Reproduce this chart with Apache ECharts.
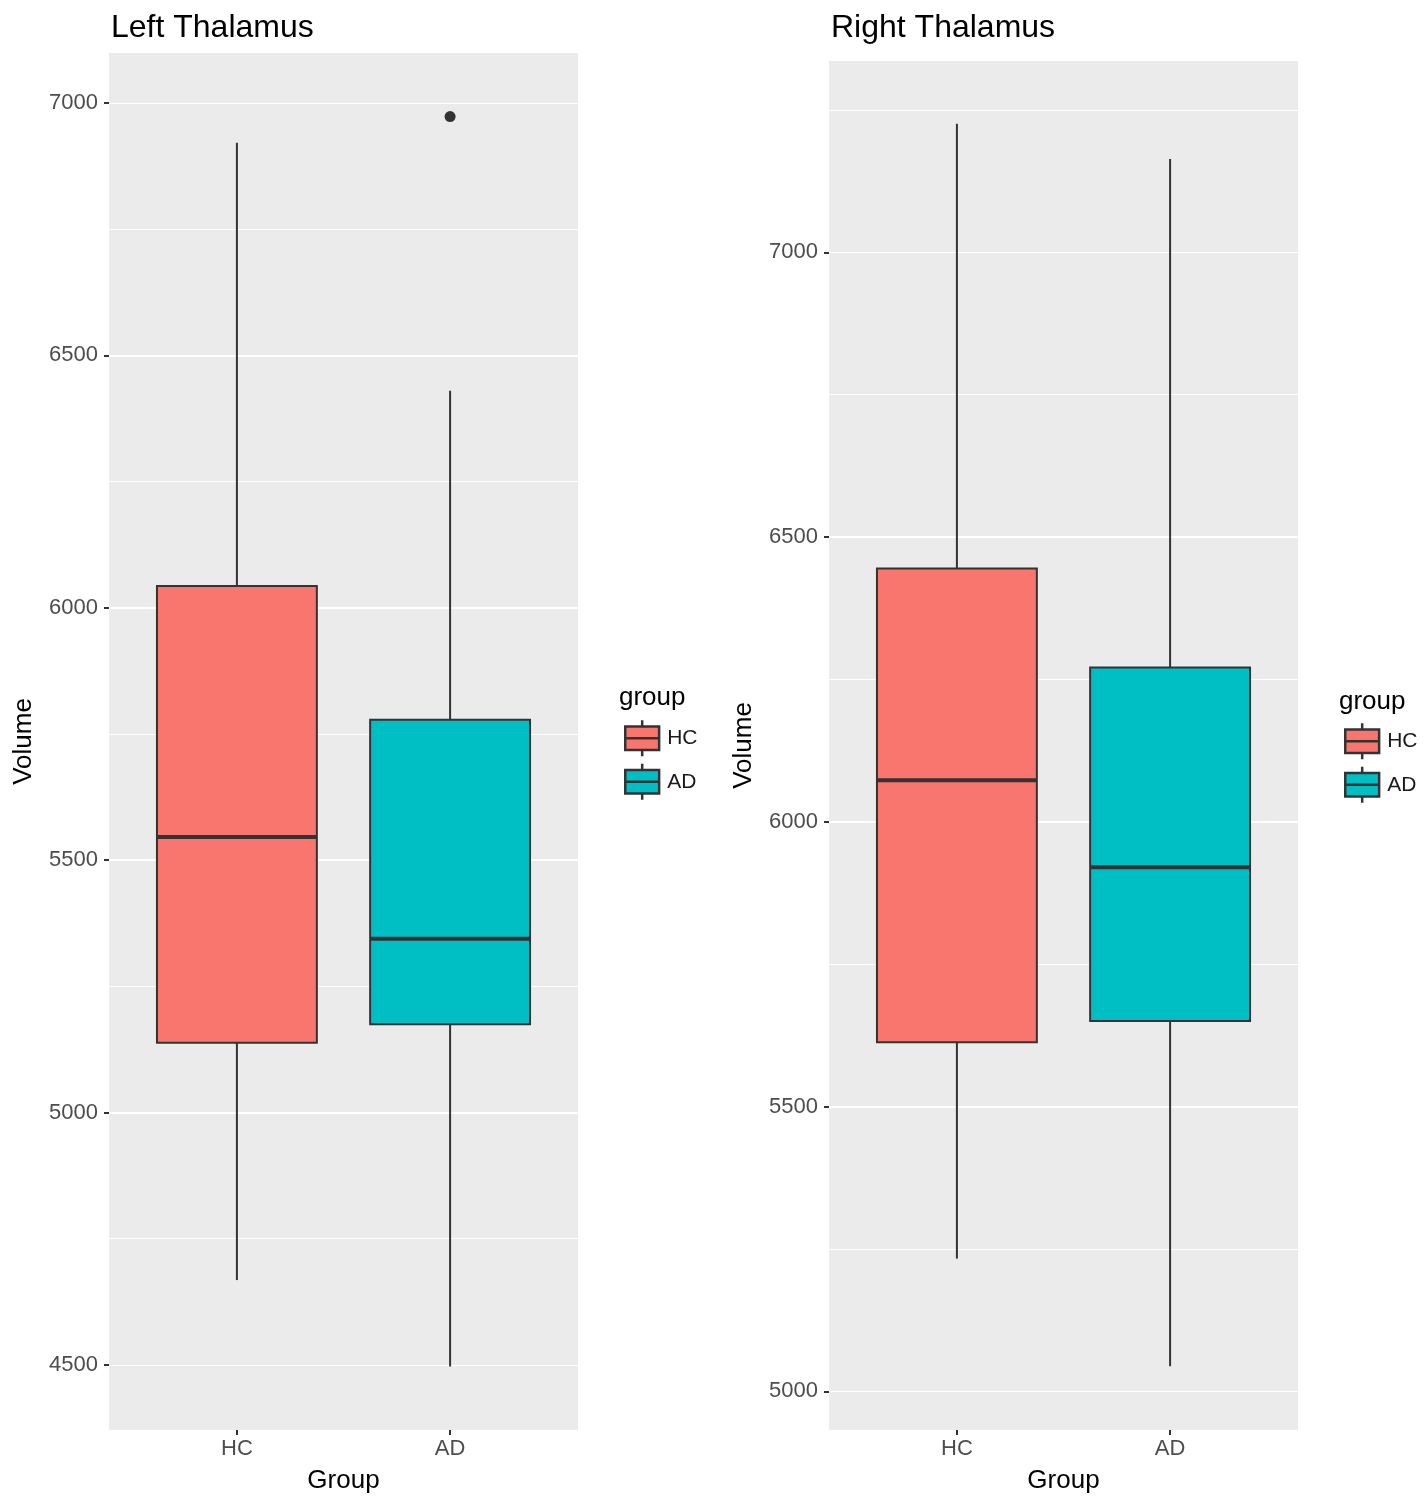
<!DOCTYPE html>
<html>
<head>
<meta charset="utf-8">
<script src="https://cdn.jsdelivr.net/npm/echarts@6/dist/echarts.min.js"></script>
<style>
  html, body { margin: 0; padding: 0; background: #fff; }
  #main { width: 1428px; height: 1499px; }
</style>
</head>
<body>
<div id="main"></div>
<script>
// categories and box statistics
const groups = ['HC', 'AD'];
const groupColors = ['#F8766D', '#00BFC4'];
// [min, Q1, median, Q3, max]
const leftHC = [4668, 5138, 5546, 6043, 6921];
const leftAD = [4497, 5175, 5344, 5778, 6430];
const leftOutliers = [[2, 6973]];
const rightHC = [5233, 5613, 6073, 6445, 7226];
const rightAD = [5044, 5650, 5920, 6271, 7164];
const leftTicks = [4500, 5000, 5500, 6000, 6500, 7000];
const rightTicks = [5000, 5500, 6000, 6500, 7000];
const leftRange = [4371, 7099];
const rightRange = [4932, 7336];

const FONT = "'Liberation Sans', Arial, sans-serif";
const legendIcon = 'path://M17,0 L17,6 M1,6 L33,6 L33,28 L1,28 Z M1,17 L33,17 M17,28 L17,34';

const chart = echarts.init(document.getElementById('main'), null, { renderer: 'canvas' });

function renderBox(params, api) {
  const x = api.value(0);
  const lo = api.coord([x, api.value(1)]);
  const q1 = api.coord([x, api.value(2)]);
  const med = api.coord([x, api.value(3)]);
  const q3 = api.coord([x, api.value(4)]);
  const hi = api.coord([x, api.value(5)]);
  const half = api.size([0.75, 0])[0] / 2;
  const color = api.visual('color');
  const stroke = { stroke: '#333333', lineWidth: 2 };
  return {
    type: 'group',
    children: [
      { type: 'line', shape: { x1: lo[0], y1: lo[1], x2: q1[0], y2: q1[1] }, style: stroke },
      { type: 'line', shape: { x1: q3[0], y1: q3[1], x2: hi[0], y2: hi[1] }, style: stroke },
      { type: 'rect', shape: { x: q3[0] - half, y: q3[1], width: half * 2, height: q1[1] - q3[1] },
        style: { fill: color, stroke: '#333333', lineWidth: 2 } },
      { type: 'line', shape: { x1: med[0] - half, y1: med[1], x2: med[0] + half, y2: med[1] },
        style: { stroke: '#333333', lineWidth: 4 } }
    ]
  };
}

function boxSeries(name, idx, stats, axisIdx) {
  return {
    type: 'custom',
    name: name,
    xAxisIndex: axisIdx,
    yAxisIndex: axisIdx * 2,
    itemStyle: { color: groupColors[idx] },
    encode: { x: 0, y: [1, 2, 3, 4, 5] },
    renderItem: renderBox,
    data: [[idx + 1].concat(stats)],
    z: 3
  };
}

function xAxisFor(gridIndex) {
  return {
    type: 'value', gridIndex: gridIndex, min: 0.4, max: 2.6,
    minInterval: 1, maxInterval: 1,
    axisLine: { show: false },
    axisTick: { show: true, customValues: [1, 2], length: 5, lineStyle: { color: '#333333', width: 2 } },
    axisLabel: { customValues: [1, 2], formatter: v => groups[Math.round(v) - 1] || '',
      color: '#4D4D4D', fontSize: 22, fontFamily: FONT, margin: 8 },
    splitLine: { show: true, showMinLine: false, showMaxLine: false, lineStyle: { color: '#FFFFFF', width: 2 } },
    name: 'Group', nameLocation: 'middle', nameGap: 38,
    nameTextStyle: { color: '#000', fontSize: 26, fontFamily: FONT }
  };
}

function yAxesFor(gridIndex, range, ticks) {
  return [{
    type: 'value', gridIndex: gridIndex, min: range[0], max: range[1],
    minInterval: 500, maxInterval: 500,
    axisLine: { show: false },
    axisTick: { show: true, customValues: ticks, length: 5, lineStyle: { color: '#333333', width: 2 } },
    axisLabel: { customValues: ticks, formatter: v => String(v),
      color: '#4D4D4D', fontSize: 22, fontFamily: FONT, margin: 11 },
    splitLine: { show: true, showMinLine: false, showMaxLine: false, lineStyle: { color: '#FFFFFF', width: 2 } },
    name: 'Volume', nameLocation: 'middle', nameGap: 72, nameRotate: 90,
    nameTextStyle: { color: '#000', fontSize: 26, fontFamily: FONT }
  }, {
    // minor grid lines
    type: 'value', gridIndex: gridIndex, min: range[0], max: range[1], position: 'right',
    minInterval: 250, maxInterval: 250,
    axisLine: { show: false }, axisTick: { show: false }, axisLabel: { show: false },
    splitLine: { show: true, showMinLine: false, showMaxLine: false, lineStyle: { color: '#FFFFFF', width: 1 } }
  }];
}

function legendFor(left, top) {
  return {
    data: groups, orient: 'vertical', left: left, top: top,
    itemWidth: 36, itemHeight: 36, itemGap: 5, icon: legendIcon,
    selectedMode: false,
    itemStyle: { borderColor: '#333333', borderWidth: 2.5 },
    textStyle: { color: '#1A1A1A', fontSize: 21, fontFamily: FONT, padding: [0, 0, 0, 2] }
  };
}

const option = {
  backgroundColor: '#FFFFFF',
  animation: false,
  title: [
    { text: 'Left Thalamus', left: 106, top: 7, textStyle: { color: '#000', fontSize: 32, fontWeight: 'normal', fontFamily: FONT } },
    { text: 'Right Thalamus', left: 826, top: 7, textStyle: { color: '#000', fontSize: 32, fontWeight: 'normal', fontFamily: FONT } },
    { text: 'group', left: 614, top: 680, textStyle: { color: '#000', fontSize: 26, fontWeight: 'normal', fontFamily: FONT } },
    { text: 'group', left: 1334, top: 684, textStyle: { color: '#000', fontSize: 26, fontWeight: 'normal', fontFamily: FONT } }
  ],
  legend: [legendFor(619, 714), legendFor(1339, 717)],
  grid: [
    { left: 109, top: 53, width: 469, height: 1377, show: true, backgroundColor: '#EBEBEB', borderWidth: 0 },
    { left: 829, top: 61, width: 469, height: 1370, show: true, backgroundColor: '#EBEBEB', borderWidth: 0 }
  ],
  xAxis: [xAxisFor(0), xAxisFor(1)],
  yAxis: yAxesFor(0, leftRange, leftTicks).concat(yAxesFor(1, rightRange, rightTicks)),
  series: [
    boxSeries('HC', 0, leftHC, 0),
    boxSeries('AD', 1, leftAD, 0),
    boxSeries('HC', 0, rightHC, 1),
    boxSeries('AD', 1, rightAD, 1),
    {
      type: 'scatter', name: 'outlier', xAxisIndex: 0, yAxisIndex: 0,
      symbolSize: 11, itemStyle: { color: '#333333', opacity: 1 }, data: leftOutliers, z: 4
    }
  ]
};

chart.setOption(option);
</script>
</body>
</html>
